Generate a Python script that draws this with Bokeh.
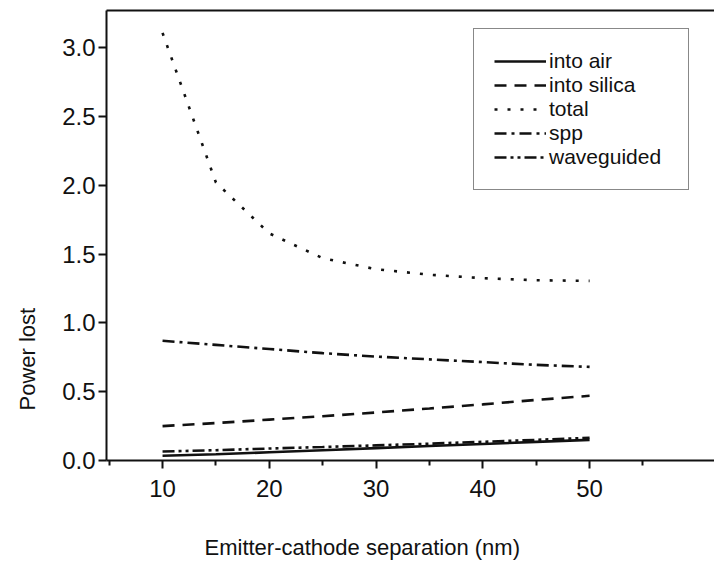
from bokeh.plotting import figure
from bokeh.models import Legend, LegendItem, LinearAxis, FixedTicker, Range1d, NumeralTickFormatter, Title
from bokeh.embed import file_html
from bokeh.resources import INLINE

# ---- data ----
separation = [10, 15, 20, 25, 30, 35, 40, 45, 50]
into_air = [0.035, 0.045, 0.06, 0.075, 0.09, 0.105, 0.12, 0.135, 0.15]
into_silica = [0.25, 0.272, 0.297, 0.322, 0.349, 0.378, 0.408, 0.44, 0.47]
total = [3.107, 2.02, 1.65, 1.47, 1.39, 1.35, 1.325, 1.31, 1.305]
spp = [0.87, 0.84, 0.81, 0.78, 0.755, 0.735, 0.715, 0.695, 0.68]
waveguided = [0.065, 0.075, 0.087, 0.098, 0.11, 0.122, 0.136, 0.15, 0.165]

x_ticks = [10, 20, 30, 40, 50]
x_minor = [5, 15, 25, 35, 45, 55]
y_ticks = [0.0, 0.5, 1.0, 1.5, 2.0, 2.5, 3.0]
x_title = "Emitter-cathode separation (nm)"
y_title = "Power lost"

FONT = "Liberation Sans"
INK = "#111111"

p = figure(width=714, height=566, output_backend="svg", toolbar_location=None,
           x_range=Range1d(4.75, 61.7), y_range=Range1d(0, 3.27),
           min_border_left=106, min_border_right=0, min_border_top=10, min_border_bottom=106)
p.grid.visible = False
p.outline_line_color = None
p.background_fill_color = "white"
p.border_fill_color = "white"

for ax in (p.xaxis[0], p.yaxis[0]):
    ax.axis_line_width = 2
    ax.axis_line_color = INK
    ax.major_tick_line_width = 2
    ax.major_tick_line_color = INK
    ax.minor_tick_line_width = 2
    ax.minor_tick_line_color = INK
    ax.major_tick_in = 0
    ax.minor_tick_in = 0
    ax.major_tick_out = 8
    ax.minor_tick_out = 5
    ax.major_label_text_font = FONT
    ax.major_label_text_font_size = "24px"
    ax.major_label_text_color = INK

p.xaxis[0].ticker = FixedTicker(ticks=x_ticks, minor_ticks=x_minor)
p.xaxis[0].major_label_standoff = 11

p.yaxis[0].ticker = FixedTicker(ticks=y_ticks, minor_ticks=[])
p.yaxis[0].formatter = NumeralTickFormatter(format="0.0")
p.yaxis[0].major_label_standoff = 3

top = LinearAxis(ticker=FixedTicker(ticks=[]), axis_line_width=2, axis_line_color=INK,
                 major_tick_line_color=None, minor_tick_line_color=None,
                 major_tick_out=0, minor_tick_out=0, major_label_standoff=0,
                 major_label_text_font_size="0px")
p.add_layout(top, "above")


def spacer(size, tick):
    # blank axis (white tick on white border) that only reserves room before the axis title
    return LinearAxis(ticker=FixedTicker(ticks=[tick]), axis_line_color=None,
                      major_tick_line_color="white", major_tick_line_width=1,
                      minor_tick_line_color=None, major_tick_in=0,
                      major_tick_out=size, minor_tick_out=0, major_label_standoff=0,
                      major_label_overrides={tick: ""},
                      major_label_text_font_size="0px")


p.add_layout(spacer(35, 58), "below")
p.add_layout(Title(text=x_title, align="left", offset=98, vertical_align="top", standoff=0,
                   text_font=FONT, text_font_size="22px", text_font_style="normal",
                   text_color=INK), "below")

p.add_layout(spacer(20, 3.2), "left")
p.add_layout(Title(text=y_title, align="left", offset=50, vertical_align="bottom", standoff=0,
                   text_font=FONT, text_font_size="22px", text_font_style="normal",
                   text_color=INK), "left")

W = 2.6
r_air = p.line(separation, into_air, line_width=W, line_color=INK)
r_sil = p.line(separation, into_silica, line_width=W, line_color=INK, line_dash="12 8")
r_tot = p.line(separation, total, line_width=W, line_color=INK, line_dash="3 10")
r_spp = p.line(separation, spp, line_width=W, line_color=INK, line_dash="12 5 3 5")
r_wg = p.line(separation, waveguided, line_width=W, line_color=INK, line_dash="12 4 3 4 3 4")

legend = Legend(items=[
    LegendItem(label="into air", renderers=[r_air]),
    LegendItem(label="into silica", renderers=[r_sil]),
    LegendItem(label="total", renderers=[r_tot]),
    LegendItem(label="spp", renderers=[r_spp]),
    LegendItem(label="waveguided", renderers=[r_wg]),
], location=(367, 270))
legend.border_line_color = INK
legend.border_line_width = 1.5
legend.background_fill_color = "white"
legend.background_fill_alpha = 1
legend.padding = 20
legend.spacing = 0
legend.margin = 0
legend.label_standoff = 3
legend.glyph_width = 52
legend.glyph_height = 24
legend.label_height = 24
legend.label_width = 119
legend.label_text_font = FONT
legend.label_text_font_size = "21px"
legend.label_text_color = INK
p.add_layout(legend)

open("out.html", "w").write(file_html(p, INLINE))
